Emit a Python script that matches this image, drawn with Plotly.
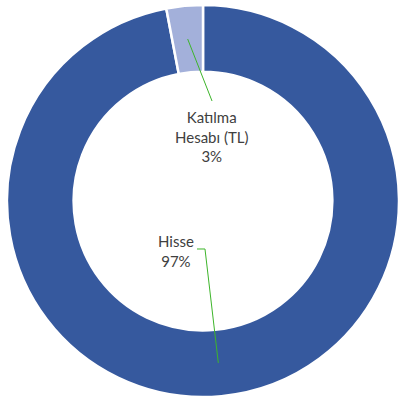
import math
import plotly.graph_objects as go

labels = ['Hisse', 'Katılma<br>Hesabı (TL)']
values = [97, 3]
pct_text = ['97%', '3%']
colors = ['#36599E', '#A3B0DA']

W, H = 400, 403
ML, MR, MT, MB = 7, 1, 3, 4
HOLE = 0.66

fig = go.Figure()
fig.add_trace(go.Pie(
    labels=labels, values=values, hole=HOLE, sort=False,
    direction='clockwise', rotation=0,
    marker=dict(colors=colors, line=dict(color='white', width=2.5)),
    textinfo='none', showlegend=False,
))

# pixel -> paper helpers
pw, ph = W - ML - MR, H - MT - MB
r_out = min(pw, ph) / 2
cx, cy = ML + pw / 2, MT + ph / 2
r_mid = r_out * (1 + HOLE) / 2


def px(x):
    return (x - ML) / pw


def py(y):
    return 1 - (y - MT) / ph


def slice_mid(i):
    tot = sum(values)
    start = sum(values[:i]) / tot * 360
    ang = math.radians(start + values[i] / tot * 180)
    return cx + r_mid * math.sin(ang), cy - r_mid * math.cos(ang)


# label positions (pixels) and leader elbows
text_pos = [(176, 251), (212, 136)]
leaders = [[(205, 249), (197, 249)], [(212, 101)]]

for i, lab in enumerate(labels):
    sx, sy = slice_mid(i)
    pts = [(sx, sy)] + leaders[i]
    path = 'M ' + ' L '.join(f'{px(a):.4f},{py(b):.4f}' for a, b in pts)
    fig.add_shape(type='path', path=path, xref='paper', yref='paper',
                  line=dict(color='#3DB52A', width=1))
    tx, ty = text_pos[i]
    fig.add_annotation(x=px(tx), y=py(ty), xref='paper', yref='paper',
                       text=lab + '<br>' + pct_text[i], showarrow=False,
                       xanchor='center', yanchor='middle', align='center',
                       font=dict(family='Lato', size=15, color='#404040'))

fig.update_layout(
    width=W, height=H,
    margin=dict(l=ML, r=MR, t=MT, b=MB, pad=0),
    paper_bgcolor='white', plot_bgcolor='white',
)
fig.write_html('out.html', config={'displayModeBar': False},
               post_script="document.body.style.margin='0';")
